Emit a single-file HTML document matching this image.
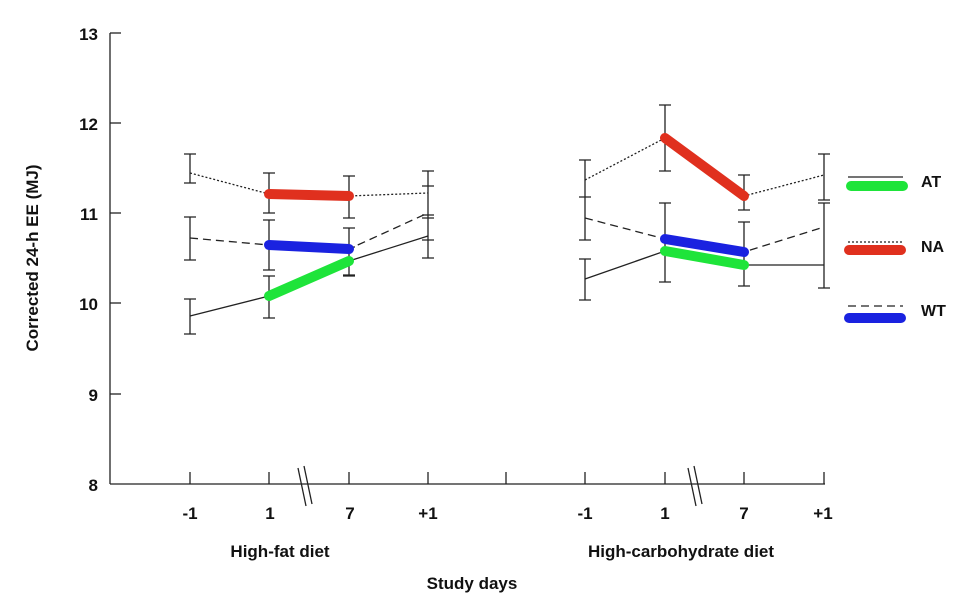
<!DOCTYPE html>
<html><head><style>body{margin:0;background:#fff}svg{display:block}text{font-family:"Liberation Sans",Arial,sans-serif;font-weight:bold;fill:#111}</style></head><body>
<svg width="959" height="599" viewBox="0 0 959 599">
<g stroke="#222" stroke-width="1.3" fill="none">
<line x1="110" y1="33" x2="110" y2="484"/>
<line x1="110" y1="484" x2="825" y2="484"/>
<line x1="110" y1="33" x2="121" y2="33"/><line x1="110" y1="123" x2="121" y2="123"/><line x1="110" y1="213" x2="121" y2="213"/><line x1="110" y1="303" x2="121" y2="303"/><line x1="110" y1="394" x2="121" y2="394"/>
<line x1="190" y1="484" x2="190" y2="472"/><line x1="269" y1="484" x2="269" y2="472"/><line x1="349" y1="484" x2="349" y2="472"/><line x1="428" y1="484" x2="428" y2="472"/><line x1="506" y1="484" x2="506" y2="472"/><line x1="585" y1="484" x2="585" y2="472"/><line x1="665" y1="484" x2="665" y2="472"/><line x1="744" y1="484" x2="744" y2="472"/><line x1="824" y1="484" x2="824" y2="472"/>
<line x1="298" y1="468" x2="306" y2="506"/><line x1="304" y1="466" x2="312" y2="504"/>
<line x1="688" y1="468" x2="696" y2="506"/><line x1="694" y1="466" x2="702" y2="504"/>
</g>
<g font-size="17">
<text x="98" y="40" text-anchor="end">13</text><text x="98" y="130" text-anchor="end">12</text><text x="98" y="220" text-anchor="end">11</text><text x="98" y="310" text-anchor="end">10</text><text x="98" y="401" text-anchor="end">9</text><text x="98" y="491" text-anchor="end">8</text>
<g text-anchor="middle" font-weight="normal"><text x="190" y="519">-1</text><text x="270" y="519">1</text><text x="350" y="519">7</text><text x="428" y="519">+1</text><text x="585" y="519">-1</text><text x="665" y="519">1</text><text x="744" y="519">7</text><text x="823" y="519">+1</text></g>
<text x="280" y="557" text-anchor="middle">High-fat diet</text>
<text x="681" y="557" text-anchor="middle">High-carbohydrate diet</text>
<text x="472" y="589" text-anchor="middle">Study days</text>
<text transform="translate(38,258) rotate(-90)" text-anchor="middle">Corrected 24-h EE (MJ)</text>
<text x="921" y="187" font-size="16">AT</text><text x="921" y="252" font-size="16">NA</text><text x="921" y="316" font-size="16">WT</text>
</g>
<g stroke="#222" stroke-width="1.3" fill="none">
<path d="M190 154V183M184 154H196M184 183H196 M190 217V260M184 217H196M184 260H196 M190 299V334M184 299H196M184 334H196
M269 173V213M263 173H275M263 213H275 M269 220V270M263 220H275M263 270H275 M269 276V318M263 276H275M263 318H275
M349 176V218M343 176H355M343 218H355 M349 228V275M343 228H355M343 275H355 M349 247V276M343 247H355M343 276H355
M428 171V218M422 171H434M422 218H434 M428 186V240M422 186H434M422 240H434 M428 215V258M422 215H434M422 258H434
M585 160V197M579 160H591M579 197H591 M585 197V240M579 240H591 M585 259V300M579 259H591M579 300H591
M665 105V171M659 105H671M659 171H671 M665 203V282M659 203H671M659 282H671
M744 175V210M738 175H750M738 210H750 M744 222V286M738 222H750M738 286H750
M824 154V200M818 154H830M818 200H830 M824 203V288M818 203H830M818 288H830"/>
<polyline points="190,316 269,296 349,261 428,236"/>
<polyline points="190,173 269,194 349,196 428,193" stroke-dasharray="2,2"/>
<polyline points="190,238 269,245 349,249 428,213" stroke-dasharray="8,5"/>
<polyline points="585,279 665,251 744,265 824,265"/>
<polyline points="585,180 665,138 744,196 824,175" stroke-dasharray="2,2"/>
<polyline points="585,218 665,239 744,252 824,227" stroke-dasharray="8,5"/>
<line x1="848" y1="177" x2="903" y2="177"/>
<line x1="848" y1="242" x2="903" y2="242" stroke-dasharray="2,2"/>
<line x1="848" y1="306" x2="903" y2="306" stroke-dasharray="8,5"/>
</g>
<g stroke-width="10" stroke-linecap="round">
<line x1="269" y1="194" x2="349" y2="196" stroke="#e0301e"/>
<line x1="269" y1="245" x2="349" y2="249" stroke="#1a22e0"/>
<line x1="269" y1="296" x2="349" y2="261" stroke="#1ee43a"/>
<line x1="665" y1="138" x2="744" y2="196" stroke="#e0301e"/>
<line x1="665" y1="239" x2="744" y2="252" stroke="#1a22e0"/>
<line x1="665" y1="251" x2="744" y2="265" stroke="#1ee43a"/>
<line x1="851" y1="186" x2="903" y2="186" stroke="#1ee43a"/>
<line x1="849" y1="250" x2="901" y2="250" stroke="#e0301e"/>
<line x1="849" y1="318" x2="901" y2="318" stroke="#1a22e0"/>
</g>
</svg>
</body></html>
